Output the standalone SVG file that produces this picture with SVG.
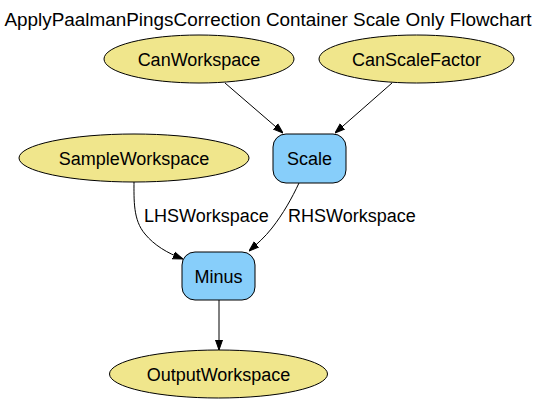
<svg xmlns="http://www.w3.org/2000/svg" width="537" height="404" viewBox="0 0 537 404">
<style>
text{font-family:"Liberation Sans",Arial,Helvetica,sans-serif;font-size:18px;fill:#000}
.t{font-size:18.9px}
.ws{fill:#f0e68c;stroke:#000;stroke-width:1}
.alg{fill:#87cefa;stroke:#000;stroke-width:1}
.e{fill:none;stroke:#000;stroke-width:1}
.c{text-anchor:middle}
</style>
<defs>
<marker id="arr" viewBox="0 0 10 10" refX="10" refY="5" markerWidth="10" markerHeight="10" markerUnits="userSpaceOnUse" orient="auto">
<path d="M0,1.5 L10,5 L0,8.5 Z" fill="#000" stroke="#000" stroke-width="1"/>
</marker>
</defs>
<rect width="537" height="404" fill="#fff"/>
<text class="c t" x="268" y="26">ApplyPaalmanPingsCorrection Container Scale Only Flowchart</text>
<g id="connectors">
<path class="e" d="M225,83 L283,133" marker-end="url(#arr)"/>
<path class="e" d="M392,83 L335,133" marker-end="url(#arr)"/>
<path class="e" d="M134,181 C134,200 133,220 145,234 C154,245 167,253 183,259" marker-end="url(#arr)"/>
<path class="e" d="M299,183 C292,198 283,214 272,228 C265,237 257,244 249,251" marker-end="url(#arr)"/>
<path class="e" d="M219,300 L219,350" marker-end="url(#arr)"/>
<text x="144" y="222">LHSWorkspace</text>
<text x="288" y="222">RHSWorkspace</text>
</g>
<g id="CanWorkspace"><ellipse class="ws" cx="199" cy="59" rx="95" ry="24"/><text class="c" x="199" y="65.5">CanWorkspace</text></g>
<g id="CanScaleFactor"><ellipse class="ws" cx="416.5" cy="59" rx="97.5" ry="24"/><text class="c" x="416.5" y="65.5">CanScaleFactor</text></g>
<g id="Scale"><rect class="alg" x="273" y="134" width="73" height="49" rx="13"/><text class="c" x="309.5" y="165">Scale</text></g>
<g id="SampleWorkspace"><ellipse class="ws" cx="134" cy="158" rx="115" ry="24"/><text class="c" x="134" y="164.5">SampleWorkspace</text></g>
<g id="Minus"><rect class="alg" x="182" y="252" width="73" height="48" rx="13"/><text class="c" x="218.5" y="282.5">Minus</text></g>
<g id="OutputWorkspace"><ellipse class="ws" cx="218.5" cy="374" rx="109" ry="24"/><text class="c" x="218.5" y="380.5">OutputWorkspace</text></g>
</svg>
